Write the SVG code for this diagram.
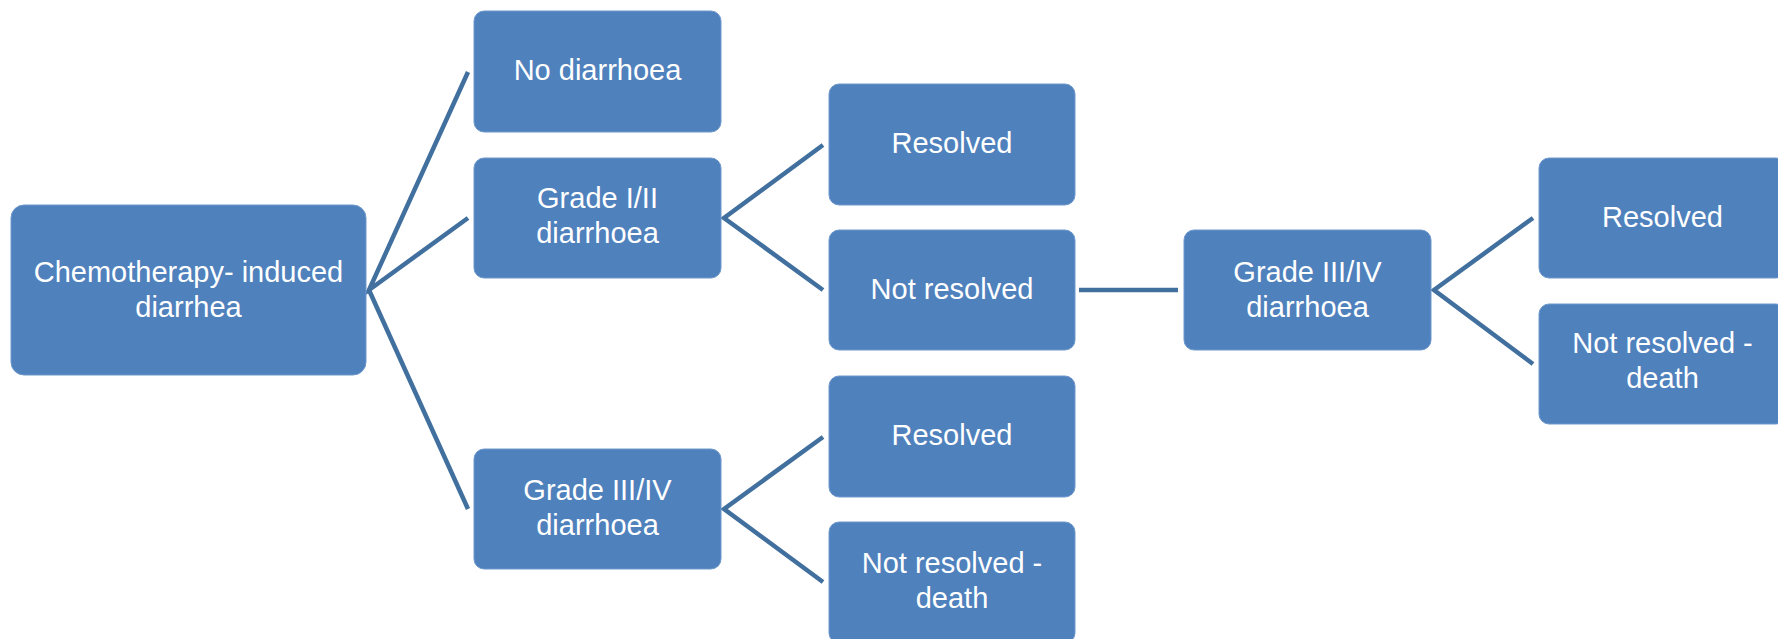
<svg xmlns="http://www.w3.org/2000/svg" width="1778" height="639" viewBox="0 0 1778 639">
<style>
.box{fill:#4F81BD;stroke:#6f98cc;stroke-width:1}
.t{font-family:"Liberation Sans",Arial,sans-serif;font-size:29px;fill:#ffffff;text-anchor:middle}
.c{stroke:#41709F;stroke-width:4.5;fill:none;stroke-linejoin:miter}
</style>
<rect width="1778" height="639" fill="#ffffff"/>
<g id="connectors">
<polyline class="c" points="468,72 369,290 468,218"/>
<line class="c" x1="369" y1="290" x2="468" y2="509"/>
<polyline class="c" points="823,145 724,218 823,290"/>
<polyline class="c" points="823,437 724,509 823,582"/>
<line class="c" x1="1079" y1="290" x2="1178" y2="290"/>
<polyline class="c" points="1533,218 1434,290 1533,364"/>
</g>
<g id="root">
<rect class="box" x="11" y="205" width="355" height="170" rx="13"/>
<text class="t" x="188.5" y="282">Chemotherapy- induced</text>
<text class="t" x="188.5" y="317">diarrhea</text>
</g>
<g id="no-diarrhoea">
<rect class="box" x="474" y="11" width="247" height="121" rx="10"/>
<text class="t" x="597.5" y="80">No diarrhoea</text>
</g>
<g id="grade12">
<rect class="box" x="474" y="158" width="247" height="120" rx="10"/>
<text class="t" x="597.5" y="208">Grade I/II</text>
<text class="t" x="597.5" y="243">diarrhoea</text>
</g>
<g id="grade34">
<rect class="box" x="474" y="449" width="247" height="120" rx="10"/>
<text class="t" x="597.5" y="500">Grade III/IV</text>
<text class="t" x="597.5" y="535">diarrhoea</text>
</g>
<g id="resolved1">
<rect class="box" x="829" y="84" width="246" height="121" rx="10"/>
<text class="t" x="952" y="153">Resolved</text>
</g>
<g id="not-resolved">
<rect class="box" x="829" y="230" width="246" height="120" rx="10"/>
<text class="t" x="952" y="299">Not resolved</text>
</g>
<g id="resolved2">
<rect class="box" x="829" y="376" width="246" height="121" rx="10"/>
<text class="t" x="952" y="445">Resolved</text>
</g>
<g id="not-resolved-death1">
<rect class="box" x="829" y="522" width="246" height="121" rx="10"/>
<text class="t" x="952" y="573">Not resolved -</text>
<text class="t" x="952" y="608">death</text>
</g>
<g id="grade34b">
<rect class="box" x="1184" y="230" width="247" height="120" rx="10"/>
<text class="t" x="1307.5" y="282">Grade III/IV</text>
<text class="t" x="1307.5" y="317">diarrhoea</text>
</g>
<g id="resolved3">
<rect class="box" x="1539" y="158" width="247" height="120" rx="10"/>
<text class="t" x="1662.5" y="227">Resolved</text>
</g>
<g id="not-resolved-death2">
<rect class="box" x="1539" y="304" width="247" height="120" rx="10"/>
<text class="t" x="1662.5" y="353">Not resolved -</text>
<text class="t" x="1662.5" y="388">death</text>
</g>
</svg>
